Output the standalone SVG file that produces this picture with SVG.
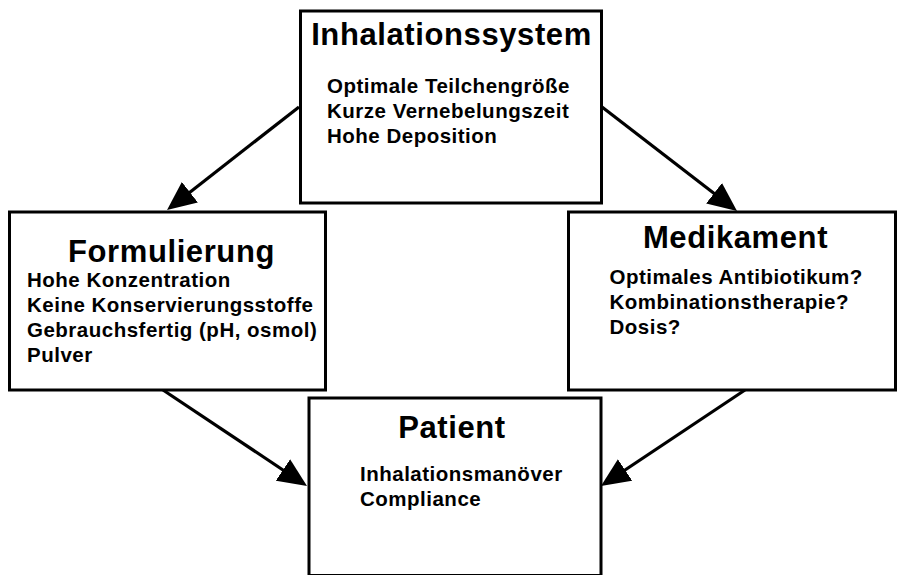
<svg xmlns="http://www.w3.org/2000/svg" width="897" height="575" viewBox="0 0 897 575">
<defs>
<style>
.box{fill:#fff;stroke:#000;stroke-width:3}
.title{font-family:"Liberation Sans",Arial,sans-serif;font-weight:bold;font-size:31px;letter-spacing:0.6px;fill:#000}
.item{font-family:"Liberation Sans",Arial,sans-serif;font-weight:bold;font-size:20.5px;letter-spacing:0.5px;fill:#000}
.conn{stroke:#000;stroke-width:3.2;fill:none;marker-end:url(#arr)}
</style>
<marker id="arr" markerUnits="userSpaceOnUse" viewBox="0 0 29 26" markerWidth="29" markerHeight="26" refX="19" refY="13" orient="auto">
<path d="M0,0 L29,13 L0,26 Z" fill="#000"/>
</marker>
</defs>
<rect width="897" height="575" fill="#fff"/>
<g id="connectors">
<line class="conn" x1="299" y1="107" x2="174.9" y2="203.9"/>
<line class="conn" x1="602" y1="107" x2="729.1" y2="204.9"/>
<line class="conn" x1="163" y1="390" x2="298.7" y2="480.5"/>
<line class="conn" x1="745" y1="390" x2="609.3" y2="480.5"/>
</g>
<g id="inhalationssystem">
<rect class="box" x="300.5" y="11" width="301" height="192"/>
<text class="title" x="451.5" y="45" text-anchor="middle">Inhalationssystem</text>
<text class="item" x="327" y="92.5">Optimale Teilchengröße</text>
<text class="item" x="327" y="118">Kurze Vernebelungszeit</text>
<text class="item" x="327" y="143.3">Hohe Deposition</text>
</g>
<g id="formulierung">
<rect class="box" x="9.5" y="212" width="316" height="178"/>
<text class="title" x="171.5" y="261.5" text-anchor="middle">Formulierung</text>
<text class="item" x="27" y="287.3">Hohe Konzentration</text>
<text class="item" x="27" y="312.3">Keine Konservierungsstoffe</text>
<text class="item" x="27" y="337.3">Gebrauchsfertig (pH, osmol)</text>
<text class="item" x="27" y="362.3">Pulver</text>
</g>
<g id="medikament">
<rect class="box" x="568.5" y="212" width="327" height="178"/>
<text class="title" x="735.5" y="248.3" text-anchor="middle">Medikament</text>
<text class="item" x="609.5" y="284">Optimales Antibiotikum?</text>
<text class="item" x="609.5" y="309">Kombinationstherapie?</text>
<text class="item" x="609.5" y="334">Dosis?</text>
</g>
<g id="patient">
<rect class="box" x="309" y="398" width="292" height="177.5"/>
<text class="title" x="452" y="438.3" text-anchor="middle">Patient</text>
<text class="item" x="360" y="480.7">Inhalationsmanöver</text>
<text class="item" x="360" y="506">Compliance</text>
</g>
</svg>
